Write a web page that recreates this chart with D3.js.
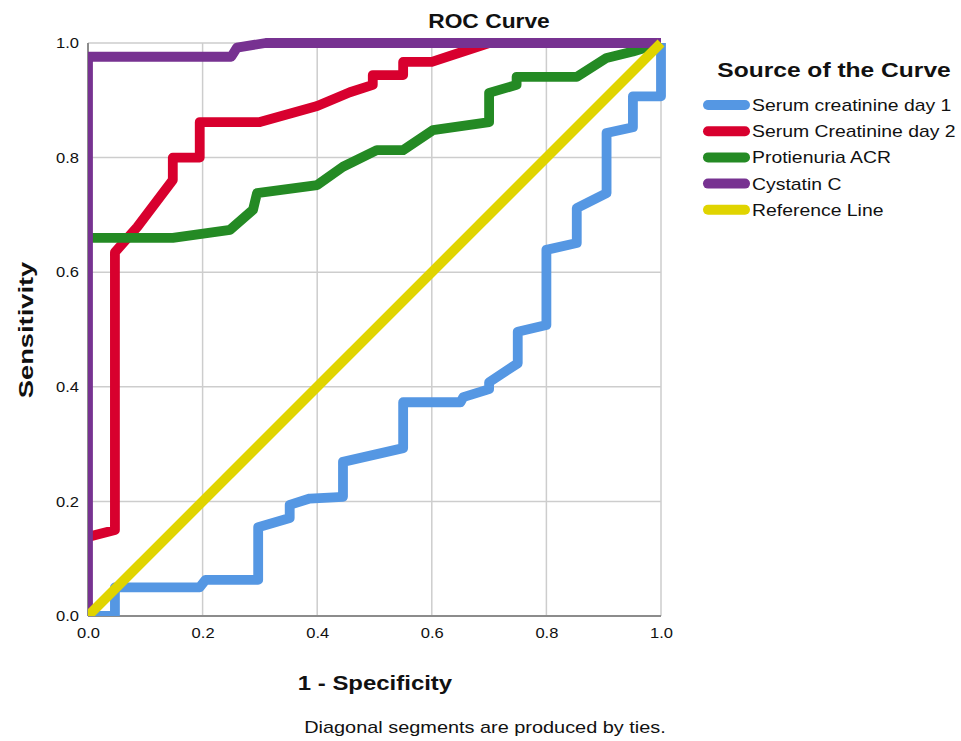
<!DOCTYPE html>
<html>
<head>
<meta charset="utf-8">
<script src="https://cdn.jsdelivr.net/npm/d3@7"></script>
<style>
  body { margin: 0; background: #fff; }
  text { font-family: "Liberation Sans", Arial, sans-serif; fill: #111; }
</style>
</head>
<body>
<div id="app"></div>
<script>
// ROC curve points, [1 - specificity, sensitivity]
const serumCreatinineDay1 = [
  [0, 0], [0.047, 0], [0.047, 0.05], [0.195, 0.05], [0.205, 0.063], [0.297, 0.063],
  [0.297, 0.155], [0.352, 0.171], [0.352, 0.194], [0.387, 0.205], [0.445, 0.208],
  [0.445, 0.269], [0.55, 0.293], [0.55, 0.373], [0.65, 0.373], [0.655, 0.382],
  [0.70, 0.396], [0.70, 0.408], [0.75, 0.441], [0.75, 0.496], [0.80, 0.508],
  [0.80, 0.639], [0.853, 0.651], [0.853, 0.712], [0.905, 0.738], [0.905, 0.843],
  [0.951, 0.853], [0.951, 0.907], [1, 0.907], [1, 1]
];
const serumCreatinineDay2 = [
  [0, 0.138], [0.047, 0.15], [0.047, 0.635], [0.086, 0.679], [0.148, 0.761],
  [0.148, 0.80], [0.195, 0.80], [0.195, 0.862], [0.30, 0.862], [0.40, 0.89],
  [0.457, 0.914], [0.497, 0.927], [0.497, 0.944], [0.55, 0.944], [0.55, 0.967],
  [0.60, 0.967], [0.70, 1], [1, 1]
];
const protienuriaACR = [
  [0, 0.66], [0.148, 0.66], [0.248, 0.674], [0.288, 0.709], [0.295, 0.738],
  [0.40, 0.752], [0.445, 0.784], [0.504, 0.813], [0.55, 0.813], [0.602, 0.848],
  [0.70, 0.862], [0.70, 0.913], [0.748, 0.927], [0.748, 0.941], [0.853, 0.941],
  [0.905, 0.974], [0.951, 0.985], [1, 1]
];
const cystatinC = [
  [0, 0], [0, 0.976], [0.25, 0.976], [0.26, 0.992], [0.31, 1], [1, 1]
];
const referenceLine = [[0, 0], [1, 1]];

const seriesNames = ["Serum creatinine day 1", "Serum Creatinine day 2", "Protienuria ACR", "Cystatin C", "Reference Line"];
const seriesColors = ["#5597e3", "#d8002e", "#248a24", "#773291", "#e0d400"];
const seriesData = [serumCreatinineDay1, serumCreatinineDay2, protienuriaACR, cystatinC, referenceLine];
const tickValues = [0, 0.2, 0.4, 0.6, 0.8, 1.0];

const width = 961;
const height = 741;
const stretch = 1.14; // the picture is a bit wider than normal Arial

const svg = d3.select("#app").append("svg")
  .attr("width", width)
  .attr("height", height)
  .style("display", "block");

const x = d3.scaleLinear().domain([0, 1]).range([88, 661]);
const y = d3.scaleLinear().domain([0, 1]).range([616, 43]);

function widen(sel, k = stretch) {
  sel.each(function () {
    const len = this.getComputedTextLength();
    d3.select(this).attr("textLength", len * k).attr("lengthAdjust", "spacingAndGlyphs");
  });
  return sel;
}

// grid
const grid = svg.append("g").attr("stroke", "#cdcdcd").attr("stroke-width", 1.5);
grid.selectAll(".gx").data(tickValues.slice(1)).join("line")
  .attr("x1", d => x(d)).attr("x2", d => x(d))
  .attr("y1", y(0)).attr("y2", y(1));
grid.selectAll(".gy").data(tickValues.slice(1)).join("line")
  .attr("x1", x(0)).attr("x2", x(1))
  .attr("y1", d => y(d)).attr("y2", d => y(d));

// axis lines
svg.append("line")
  .attr("x1", x(0)).attr("x2", x(1)).attr("y1", y(0)).attr("y2", y(0))
  .attr("stroke", "#8c8c8c").attr("stroke-width", 2);
svg.append("line")
  .attr("x1", x(0)).attr("x2", x(0)).attr("y1", y(0)).attr("y2", y(1))
  .attr("stroke", "#8c8c8c").attr("stroke-width", 2);

// tick labels
const xAxis = svg.append("g")
  .attr("transform", `translate(0,${y(0) + 9})`)
  .call(d3.axisBottom(x).tickValues(tickValues).tickFormat(d3.format(".1f")).tickSize(0));
xAxis.select(".domain").remove();
xAxis.selectAll("text").attr("font-size", 14.5).attr("font-family", "Liberation Sans").attr("fill", "#222").call(widen);

const yAxis = svg.append("g")
  .attr("transform", `translate(${x(0) - 9},0)`)
  .call(d3.axisLeft(y).tickValues(tickValues).tickFormat(d3.format(".1f")).tickSize(0).tickPadding(0));
yAxis.select(".domain").remove();
yAxis.selectAll("text").attr("font-size", 14.5).attr("font-family", "Liberation Sans").attr("fill", "#222").call(widen);

// curves, clipped at the left and bottom axes
svg.append("clipPath").attr("id", "clip")
  .append("rect")
  .attr("x", x(0)).attr("y", y(1) - 20)
  .attr("width", x(1) - x(0) + 20).attr("height", y(0) - y(1) + 20);

const line = d3.line().x(d => x(d[0])).y(d => y(d[1]));

svg.append("g").attr("clip-path", "url(#clip)")
  .selectAll("path")
  .data(seriesData)
  .join("path")
  .attr("d", line)
  .attr("fill", "none")
  .attr("stroke", (d, i) => seriesColors[i])
  .attr("stroke-width", 9.8)
  .attr("stroke-linejoin", "round");

// titles
svg.append("text")
  .attr("x", 489).attr("y", 28)
  .attr("text-anchor", "middle")
  .attr("font-size", 20).attr("font-weight", "bold")
  .text("ROC Curve").call(widen);

svg.append("text")
  .attr("x", 375).attr("y", 690)
  .attr("text-anchor", "middle")
  .attr("font-size", 21).attr("font-weight", "bold")
  .text("1 - Specificity").call(widen);

svg.append("text")
  .attr("transform", "translate(33,330) rotate(-90)")
  .attr("text-anchor", "middle")
  .attr("font-size", 21).attr("font-weight", "bold")
  .text("Sensitivity").call(widen, 1.3);

svg.append("text")
  .attr("x", 485).attr("y", 733)
  .attr("text-anchor", "middle")
  .attr("font-size", 17)
  .text("Diagonal segments are produced by ties.").call(widen, 1.17);

// legend
const legend = svg.append("g").attr("transform", "translate(703,0)");
legend.append("text")
  .attr("x", 131).attr("y", 77)
  .attr("text-anchor", "middle")
  .attr("font-size", 21).attr("font-weight", "bold")
  .text("Source of the Curve").call(widen, 1.17);

const item = legend.selectAll(".item")
  .data(seriesNames)
  .join("g")
  .attr("transform", (d, i) => `translate(0,${105 + i * 26.2})`);
item.append("line")
  .attr("x1", 5).attr("x2", 42)
  .attr("stroke", (d, i) => seriesColors[i])
  .attr("stroke-width", 10)
  .attr("stroke-linecap", "round");
item.append("text")
  .attr("x", 49).attr("y", 6)
  .attr("font-size", 17)
  .text(d => d).call(widen);
</script>
</body>
</html>
